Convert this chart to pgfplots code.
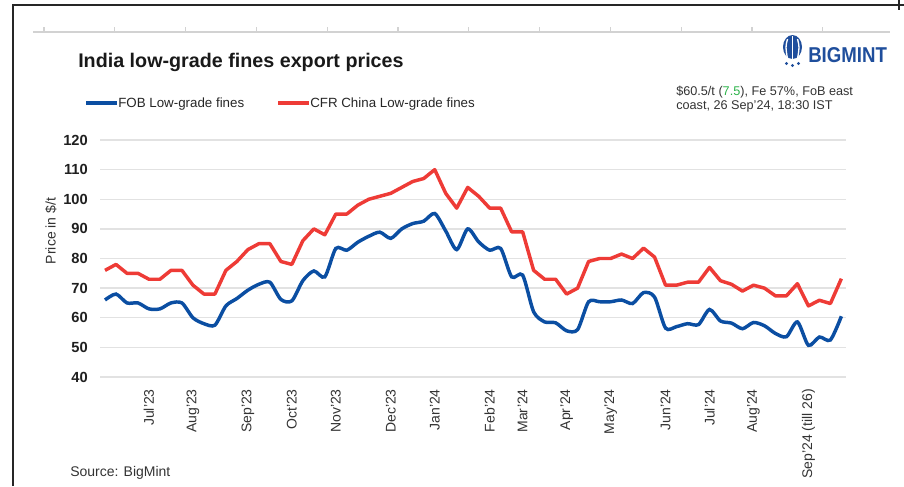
\documentclass[border=0pt]{standalone}
\usepackage{fontspec}
\setmainfont{Liberation Sans}
\usepackage{graphicx}
\usepackage{pgfplots}
\usepackage{pgfplotstable}
\pgfplotsset{compat=1.18}
\definecolor{fobblue}{HTML}{0B4EA2}
\definecolor{cfrred}{HTML}{EE3B36}
\definecolor{gridgray}{HTML}{E2E2E2}
\definecolor{txt}{HTML}{333333}
\definecolor{logoblue}{HTML}{1F4E9C}
\definecolor{notegreen}{HTML}{2DB34A}

\pgfplotstableread{
i fob cfr
0 66 76
1 68 78
2 65 75
3 65 75
4 63 73
5 63 73
6 65 76
7 65 76
8 60 71
9 58 68
10 57.5 68
11 64 76
12 66.5 79
13 69.3 83
14 71.3 85
15 72 85
16 66.2 79
17 65.7 78
18 72.5 86
19 75.8 90
20 73.8 88
21 83.4 95
22 82.8 95
23 85.5 98
24 87.5 100
25 88.9 101
26 86.8 102
27 90 104
28 91.8 106
29 92.6 107
30 95.2 110
31 89.3 102
32 83 97
33 90 104
34 85.6 101
35 82.8 97
36 83.4 97
37 73.8 89
38 74.4 89
39 62 76
40 58.6 73
41 58.3 73
42 55.6 68
43 56 70
44 65.4 79
45 65.4 80
46 65.4 80
47 66 81.5
48 64.8 80
49 68.5 83.5
50 67 80.5
51 56.5 71
52 57 71
53 58 72
54 57.7 72
55 62.8 77
56 58.9 72.5
57 58.2 71.3
58 56.3 69
59 58.4 71
60 57.3 70
61 54.7 67.4
62 53.6 67.4
63 58.6 71.5
64 50.7 64
65 53.5 65.9
66 52.5 64.8
67 60.5 73.2
}\prices

\begin{document}
\begin{tikzpicture}
\begin{scope}[x=0.75pt,y=-0.75pt]
\path[use as bounding box] (0,0) rectangle (904,486);
% frame
\draw[line width=1.5pt, black!85] (12.5,486) -- (12.5,5) -- (904,5);
\draw[line width=1.5pt, black!85] (899,0) -- (899,10);
% faint top rule with ticks
\draw[gray!35, line width=0.8pt] (33,32) -- (890,32);
\foreach \t in {44,114.8,185.6,256.4,327.2,398,468.8,539.6,610.4,681.2,752,822.8}
  \draw[gray!35, line width=0.8pt] (\t,32) -- (\t,27);
% title
\node[anchor=base west, inner sep=0pt, text=black!90] at (78,67)
  {\resizebox{244pt}{!}{\bfseries India low-grade fines export prices}};
% legend
\draw[fobblue, line width=2.6pt] (86,103) -- (117,103);
\node[anchor=base west, inner sep=0pt, font=\fontsize{10}{12}\selectfont, text=black!85] at (118,107) {FOB Low-grade fines};
\draw[cfrred, line width=2.6pt] (278,103) -- (309,103);
\node[anchor=base west, inner sep=0pt, font=\fontsize{10}{12}\selectfont, text=black!85] at (310,107) {CFR China Low-grade fines};
% note
\node[anchor=base west, inner sep=0pt, font=\fontsize{9.5}{11}\selectfont, text=txt] at (676,95)
  {\$60.5/t (\textcolor{notegreen}{7.5}), Fe 57\%, FoB east};
\node[anchor=base west, inner sep=0pt, font=\fontsize{9.5}{11}\selectfont, text=txt] at (676,109)
  {coast, 26 Sep'24, 18:30 IST};
% logo
\fill[logoblue] (792.5,47) ellipse [x radius=9.5, y radius=12];
\draw[white, line width=1.3pt] (792.5,36) -- (792.5,60);
\draw[white, line width=1pt] (787.5,39) .. controls (785.5,47) .. (787.5,59);
\draw[white, line width=1pt] (797.5,39) .. controls (799.5,47) .. (797.5,59);
\fill[logoblue] (786.5,63.5) circle [radius=1.6];
\fill[logoblue] (792.5,65.5) circle [radius=1.6];
\fill[logoblue] (798.5,63.5) circle [radius=1.6];
\node[anchor=base west, inner sep=0pt, text=logoblue] at (808,62)
  {\resizebox{59pt}{11.25pt}{\bfseries BIGMINT}};
% y label
\node[rotate=90, inner sep=0pt, font=\fontsize{10.5}{12}\selectfont, text=txt] at (51,231) {Price in \$/t};
% source
\node[anchor=base west, inner sep=0pt, font=\fontsize{10.5}{12}\selectfont, text=txt] at (70,476) {Source: BigMint};
\end{scope}

\begin{axis}[
  at={(75pt,-282.75pt)}, anchor=south west,
  scale only axis, width=559.5pt, height=177.75pt,
  xmin=-0.455, xmax=67.42, ymin=40, ymax=120,
  axis line style={draw=none},
  major tick style={draw=none},
  ymajorgrids, grid style={gridgray, line width=1.1pt},
  ytick={40,50,...,120},
  /pgf/number format/assume math mode=true,
  yticklabel style={font=\fontsize{11}{13}\selectfont\bfseries, text=black!88, inner sep=0pt, xshift=-9pt},
  xtick={4,8,13,17,21,26,30,35,38,42,46,51,55,59,64},
  xticklabels={Jul'23,Aug'23,Sep'23,Oct'23,Nov'23,Dec'23,Jan'24,Feb'24,Mar'24,Apr'24,May'24,Jun'24,Jul'24,Aug'24,{Sep'24 (till 26)}},
  xticklabel style={font=\fontsize{10.5}{12}\selectfont, text=txt, inner sep=0pt, yshift=-9pt, rotate=90, anchor=east},
  clip=false,
]
\addplot[cfrred, line width=2.6pt, line join=round] table[x=i, y=cfr]{\prices};
\addplot[fobblue, line width=2.6pt, smooth, tension=0.45] table[x=i, y=fob]{\prices};
\end{axis}
\end{tikzpicture}
\end{document}
